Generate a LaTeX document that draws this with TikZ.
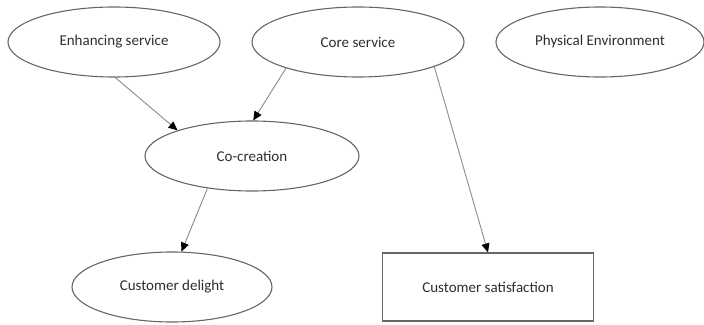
\documentclass[tikz,border=0pt]{standalone}
\usepackage{fontspec}
\setmainfont{Carlito}
\usetikzlibrary{shapes.geometric,arrows.meta}
\definecolor{outl}{HTML}{666666}
\definecolor{conn}{HTML}{8A8A8A}
\definecolor{txt}{HTML}{2E2E2E}
\tikzset{
  oval/.style={ellipse, draw=outl, line width=1.1pt, inner sep=0pt,
    minimum width=212pt, minimum height=70pt, text=txt,
    font=\fontsize{15}{18}\selectfont},
  boxnode/.style={rectangle, draw=outl, line width=1.1pt, inner sep=0pt,
    minimum width=211pt, minimum height=68pt, text=txt,
    font=\fontsize{15}{18}\selectfont},
  conarrow/.style={draw=conn, line width=0.9pt,
    -{Triangle[length=9pt,width=8pt,color=black]}}
}
\begin{document}
\begin{tikzpicture}[x=1pt,y=-1pt]
\useasboundingbox (0,0) rectangle (704,324);
\node[oval] (enh) at (114,42) {Enhancing service};
\node[oval] (core) at (358,42) {Core service};
\node[oval, minimum width=208pt] (phys) at (600,42) {Physical Environment};
\node[oval, minimum width=214pt] (cocr) at (252,156) {Co-creation};
\node[oval, minimum width=200pt] (deli) at (172,287) {Customer delight};
\node[boxnode] (sat) at (488,287) {Customer satisfaction};
\draw[conarrow] (enh.-88) -- (cocr.161.6);
\draw[conarrow] (core.-160.9) -- (cocr.88);
\draw[conarrow] (core.-18.2) -- (sat.north);
\draw[conarrow] (cocr.-144.6) -- (deli.75);
\end{tikzpicture}
\end{document}
